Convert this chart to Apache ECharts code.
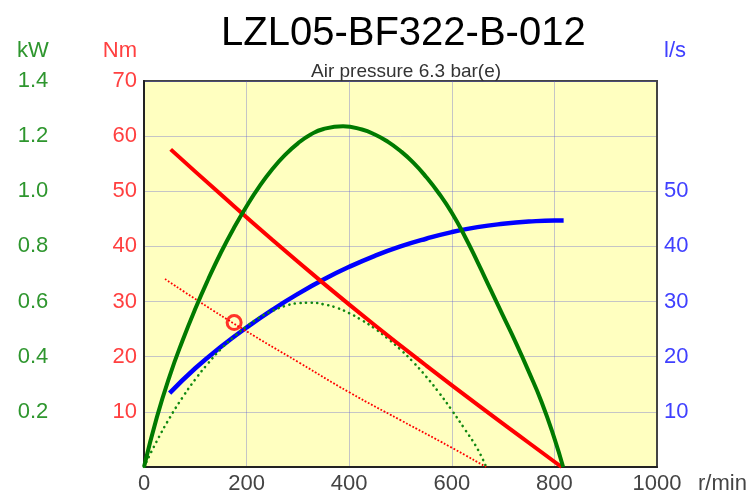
<!DOCTYPE html>
<html>
<head>
<meta charset="utf-8">
<script src="https://cdn.jsdelivr.net/npm/echarts@6/dist/echarts.min.js"></script>
<style>
html,body{margin:0;padding:0;background:#fff;}
#c{width:753px;height:495px;}
</style>
</head>
<body>
<div id="c"></div>
<script>
// ---- Data ----
const titleText = 'LZL05-BF322-B-012';
const subtitleText = 'Air pressure 6.3 bar(e)';
const xTicks = [0, 200, 400, 600, 800, 1000];

// Torque at 6.3 bar (Nm)
const torqueRpm = [52, 150, 250, 350, 450, 550, 650, 750, 814];
const torqueNm  = [57.6, 49.4, 41.2, 33.3, 25.7, 18.4, 11.3, 4.4, 0];

// Power at 6.3 bar (kW)
const powerRpm = [0, 25, 50, 75, 100, 125, 150, 175, 200, 225, 250, 275, 300, 325, 350, 388, 425, 450, 475, 500, 525, 550, 575, 600, 625, 650, 675, 700, 725, 750, 775, 800, 817];
const powerKw  = [0, 0.18, 0.33, 0.458, 0.574, 0.68, 0.778, 0.866, 0.946, 1.018, 1.08, 1.132, 1.174, 1.206, 1.226, 1.236, 1.224, 1.206, 1.18, 1.146, 1.104, 1.052, 0.992, 0.922, 0.838, 0.744, 0.646, 0.548, 0.45, 0.346, 0.236, 0.104, 0];

// Air consumption (l/s)
const airRpm = [50, 100, 150, 200, 250, 300, 350, 400, 450, 500, 550, 600, 650, 700, 750, 800, 818];
const airLs  = [13.4, 17.9, 21.8, 25.3, 28.5, 31.4, 34.0, 36.3, 38.3, 40.0, 41.4, 42.6, 43.5, 44.1, 44.5, 44.7, 44.7];

// Torque, lower curve (Nm, dotted)
const torque2Rpm = [41, 106, 193, 303, 401, 500, 598, 667];
const torque2Nm  = [34.1, 30.1, 25, 18.9, 13.5, 8.5, 3.6, 0];

// Power, lower curve (kW, dotted)
const power2Rpm = [0, 25, 50, 75, 100, 125, 150, 175, 200, 225, 250, 275, 300, 325, 350, 375, 400, 425, 450, 475, 500, 525, 550, 575, 600, 625, 650, 667];
const power2Kw  = [0, 0.094, 0.178, 0.252, 0.318, 0.376, 0.428, 0.472, 0.51, 0.542, 0.566, 0.584, 0.594, 0.596, 0.59, 0.578, 0.558, 0.532, 0.502, 0.466, 0.426, 0.38, 0.328, 0.27, 0.206, 0.138, 0.066, 0];

// Operating point marker
const markerRpm = [175.7];
const markerNm  = [26.2];

const zip = (a, b) => a.map((v, i) => [v, b[i]]);

const FONT = 'Liberation Sans, Arial, sans-serif';
const GREEN = '#007a00';
const GREEN_T = '#2e962e';
const RED = '#ff0000';
const RED_T = '#ff4040';
const BLUE = '#0000ff';
const BLUE_T = '#4040ff';
const GRIDC = 'rgba(90,90,210,0.35)';
const SM = 0.5;

const chart = echarts.init(document.getElementById('c'), null, {renderer: 'canvas'});
chart.setOption({
  animation: false,
  backgroundColor: '#ffffff',
  textStyle: {fontFamily: FONT},
  title: [
    {text: titleText, left: 216, top: 9,
     textStyle: {fontSize: 40, fontWeight: 'normal', color: '#000', fontFamily: FONT}},
    {text: subtitleText, left: 306, top: 57,
     textStyle: {fontSize: 19, fontWeight: 'normal', color: '#333', fontFamily: FONT}}
  ],
  grid: {left: 144, top: 81, width: 513, height: 387, show: true,
         backgroundColor: '#ffffc0', borderColor: '#444', borderWidth: 2},
  xAxis: {
    type: 'value', min: xTicks[0], max: xTicks[xTicks.length - 1], interval: 200,
    name: 'r/min', nameLocation: 'end', nameGap: 41,
    nameTextStyle: {color: '#444', fontSize: 22, fontFamily: FONT, verticalAlign: 'top', padding: [6, 0, 0, 0]},
    axisLine: {show: true, lineStyle: {color: '#222', width: 2}},
    axisTick: {show: false},
    axisLabel: {color: '#444', fontSize: 22, margin: 6, fontFamily: FONT, formatter: v => String(v)},
    splitLine: {show: true, lineStyle: {color: GRIDC, width: 1}}
  },
  yAxis: [
    { // Nm
      type: 'value', min: 0, max: 70, interval: 10, position: 'left',
      name: 'Nm', nameLocation: 'end', nameGap: 19,
      nameTextStyle: {color: RED_T, fontSize: 22, fontFamily: FONT, align: 'right', padding: [0, 7, 0, 0]},
      axisLine: {show: true, lineStyle: {color: '#222', width: 2}},
      axisTick: {show: false},
      axisLabel: {color: RED_T, fontSize: 22, margin: 7, fontFamily: FONT,
                  formatter: v => v === 0 ? '' : String(v)},
      splitLine: {show: true, lineStyle: {color: GRIDC, width: 1}}
    },
    { // kW
      type: 'value', min: 0, max: 1.4, interval: 0.2, position: 'left', offset: 111,
      name: 'kW', nameLocation: 'end', nameGap: 19,
      nameTextStyle: {color: GREEN_T, fontSize: 22, fontFamily: FONT},
      axisLine: {show: false}, axisTick: {show: false},
      axisLabel: {color: GREEN_T, fontSize: 22, margin: 0, align: 'center', fontFamily: FONT,
                  formatter: v => v < 0.01 ? '' : v.toFixed(1)},
      splitLine: {show: false}
    },
    { // l/s
      type: 'value', min: 0, max: 70, interval: 10, position: 'right',
      name: 'l/s', nameLocation: 'end', nameGap: 19,
      nameTextStyle: {color: BLUE_T, fontSize: 22, fontFamily: FONT, align: 'left', padding: [0, 0, 0, 7]},
      axisLine: {show: true, lineStyle: {color: '#444', width: 2}},
      axisTick: {show: false},
      axisLabel: {color: BLUE_T, fontSize: 22, margin: 7, fontFamily: FONT,
                  formatter: v => (v >= 10 && v <= 50) ? String(v) : ''},
      splitLine: {show: false}
    }
  ],
  series: [
    {type: 'line', name: 'air', yAxisIndex: 2, data: zip(airRpm, airLs), smooth: SM,
     showSymbol: false, lineStyle: {color: BLUE, width: 4.5}, z: 3},
    {type: 'line', name: 'power2', yAxisIndex: 1, data: zip(power2Rpm, power2Kw), smooth: SM,
     showSymbol: false, lineStyle: {color: '#118811', width: 2.6, type: [0.1, 5.5], cap: 'round'}, z: 4},
    {type: 'line', name: 'torque2', yAxisIndex: 0, data: zip(torque2Rpm, torque2Nm), smooth: SM,
     showSymbol: false, lineStyle: {color: RED, width: 1.8, type: [1.8, 1.8]}, z: 4},
    {type: 'line', name: 'torque', yAxisIndex: 0, data: zip(torqueRpm, torqueNm), smooth: SM,
     showSymbol: false, lineStyle: {color: RED, width: 4}, z: 5},
    {type: 'line', name: 'power', yAxisIndex: 1, data: zip(powerRpm, powerKw), smooth: SM,
     showSymbol: false, lineStyle: {color: GREEN, width: 4}, z: 6},
    {type: 'scatter', name: 'point', yAxisIndex: 0, data: zip(markerRpm, markerNm),
     symbol: 'circle', symbolSize: 14,
     itemStyle: {color: 'rgba(0,0,0,0)', borderColor: RED, borderWidth: 3}, z: 7}
  ]
});
</script>
</body>
</html>
